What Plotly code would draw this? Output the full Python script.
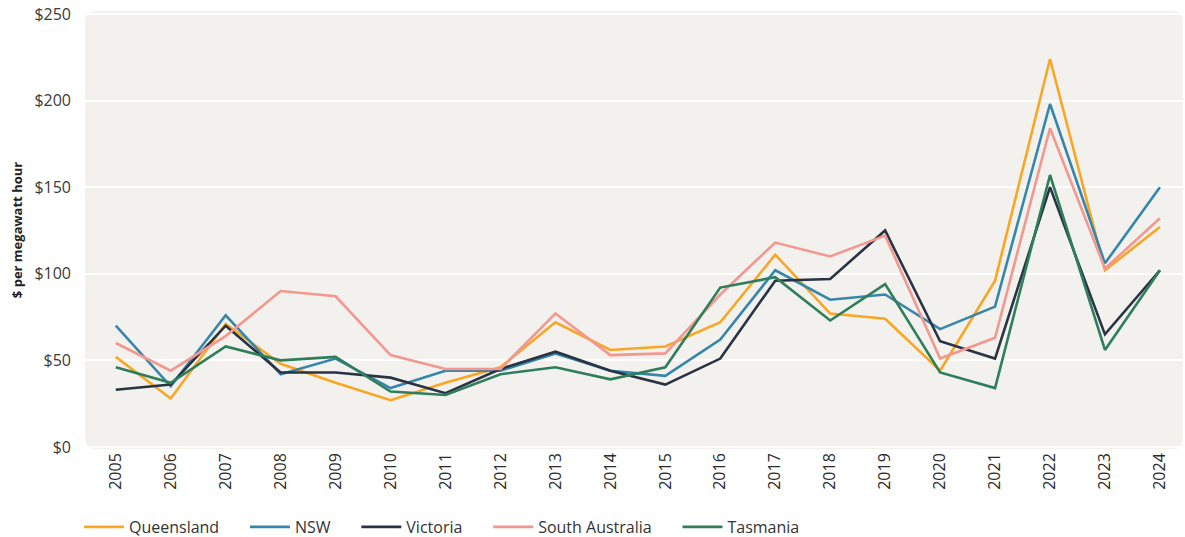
import plotly.graph_objects as go

years = list(range(2005, 2025))
queensland = [52, 28, 71, 48, 37, 27, 37, 46, 72, 56, 58, 72, 111, 77, 74, 44, 96, 224, 102, 127]
nsw = [70, 35, 76, 42, 51, 34, 44, 44, 54, 44, 41, 62, 102, 85, 88, 68, 81, 198, 106, 150]
victoria = [33, 36, 70, 43, 43, 40, 31, 45, 55, 44, 36, 51, 96, 97, 125, 61, 51, 150, 65, 102]
south_australia = [60, 44, 64, 90, 87, 53, 45, 45, 77, 53, 54, 88, 118, 110, 122, 51, 63, 184, 103, 132]
tasmania = [46, 37, 58, 50, 52, 32, 30, 42, 46, 39, 46, 92, 98, 73, 94, 43, 34, 157, 56, 102]

series = [
    ("Queensland", queensland, "#F8A624"),
    ("NSW", nsw, "#3586AA"),
    ("Victoria", victoria, "#2A3344"),
    ("South Australia", south_australia, "#F29890"),
    ("Tasmania", tasmania, "#2E7E5C"),
]

y_ticks = [0, 50, 100, 150, 200, 250]
y_tick_labels = ["$0", "$50", "$100", "$150", "$200", "$250"]

pad = "\u00a0" * 5
fig = go.Figure()
for name, vals, color in series:
    fig.add_trace(go.Scatter(x=years, y=vals, name=name + pad, mode="lines",
                             line=dict(color=color, width=2.6)))

rx = 10 / 1098
ry = 10 / 438
path = (f"M {rx},0 L {1-rx},0 Q 1,0 1,{ry} L 1,{1-ry} Q 1,1 {1-rx},1 "
        f"L {rx},1 Q 0,1 0,{1-ry} L 0,{ry} Q 0,0 {rx},0 Z")
fig.add_shape(type="path", path=path, xref="x domain", yref="y domain",
              fillcolor="#F2F1ED", line=dict(width=0), layer="below")

fig.update_layout(
    width=1185, height=537,
    margin=dict(l=85, r=2, t=11, b=88, autoexpand=False),
    paper_bgcolor="white",
    plot_bgcolor="rgba(0,0,0,0)",
    font=dict(family="Open Sans, sans-serif", color="#333"),
    showlegend=True,
    legend=dict(orientation="h", x=-0.0055, xanchor="left", y=-0.178, yanchor="middle",
                font=dict(size=16, color="#333"), itemwidth=40),
    xaxis=dict(range=[2004.44, 2024.42], tickmode="array", tickvals=years,
               ticktext=[str(y) for y in years], tickangle=-90,
               showgrid=False, zeroline=False, showline=False, automargin=False,
               tickfont=dict(size=16, color="#2a2a2a"), ticks="", ticklen=0),
    yaxis=dict(range=[-1.2, 251.7], tickmode="array", tickvals=y_ticks,
               ticktext=y_tick_labels, showgrid=True, gridcolor="white",
               gridwidth=2, zeroline=False, showline=False, automargin=False,
               tickfont=dict(size=16, color="#3a3a3a"), ticklabeloverflow="allow",
               title=dict(text="<b>$ per megawatt hour</b>",
                          font=dict(size=13, color="#222"), standoff=8),
               ticklabelstandoff=13),
)

fig.write_html("out.html", config={"displayModeBar": False},
               post_script="document.body.style.margin='0px';")
